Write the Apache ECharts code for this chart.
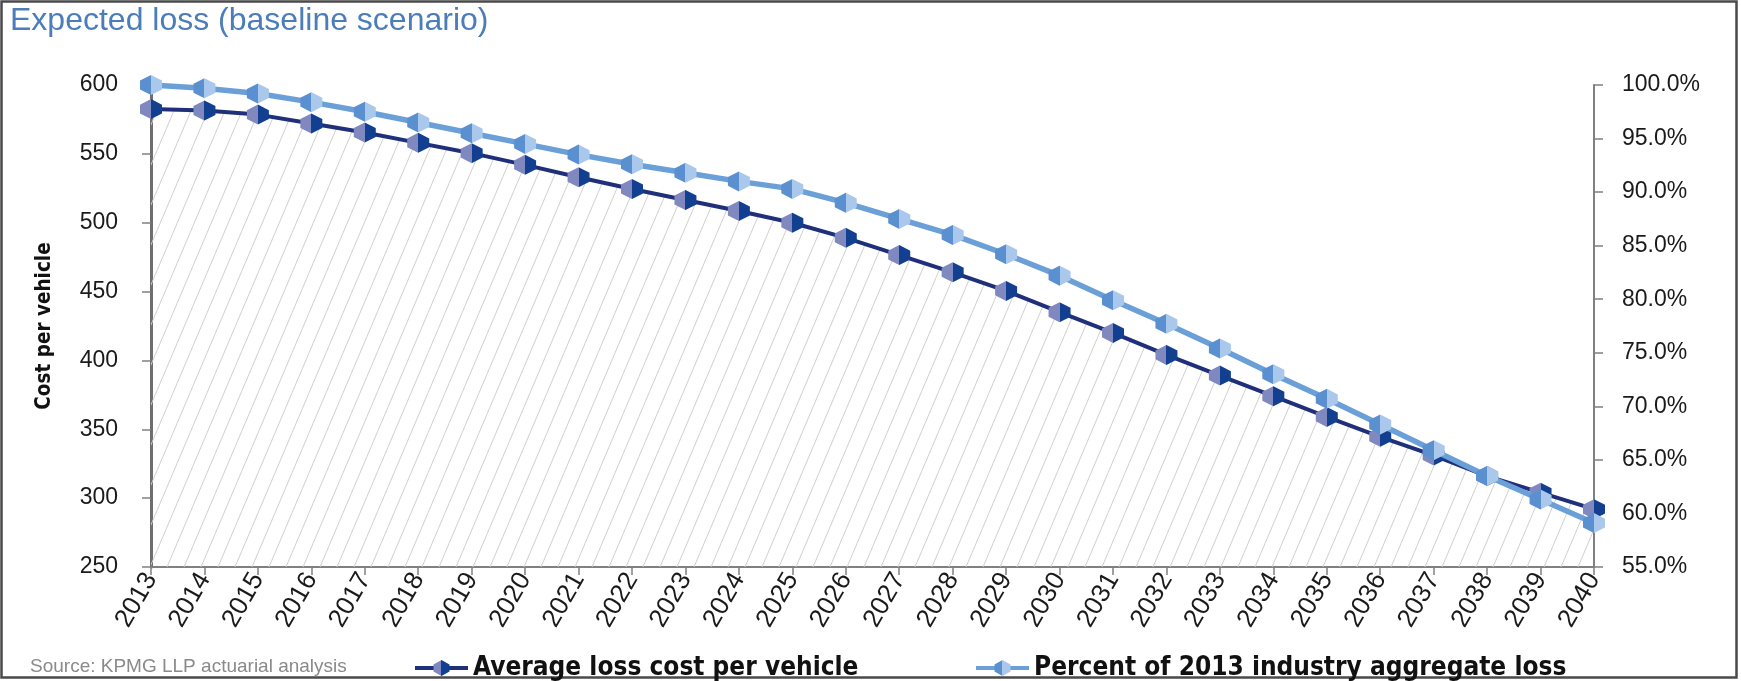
<!DOCTYPE html>
<html>
<head>
<meta charset="utf-8">
<title>Expected loss (baseline scenario)</title>
<script src="https://cdn.jsdelivr.net/npm/echarts@6/dist/echarts.min.js"></script>
<style>
  html, body { margin: 0; padding: 0; background: #ffffff; }
  #chart { width: 1741px; height: 681px; }
</style>
</head>
<body>
<div id="chart"></div>
<script>
// Model years on the category axis
const years = ['2013', '2014', '2015', '2016', '2017', '2018', '2019', '2020', '2021', '2022',
  '2023', '2024', '2025', '2026', '2027', '2028', '2029', '2030', '2031', '2032',
  '2033', '2034', '2035', '2036', '2037', '2038', '2039', '2040'];

// Average loss cost per vehicle (left axis, dollars)
const avgLossCost = [582.5, 581.5, 578.5, 572, 565.5, 558, 550.5, 542, 533, 524.5,
  516.5, 508.5, 500, 489, 476.5, 464, 450.5, 435, 420, 404,
  389, 374, 359, 344.5, 331, 316, 304, 292];

// Percent of 2013 industry aggregate loss (right axis, percent)
const pctOfAggregate = [100, 99.7, 99.2, 98.4, 97.5, 96.5, 95.5, 94.5, 93.5, 92.6,
  91.8, 91.0, 90.3, 89.0, 87.5, 86.0, 84.2, 82.2, 79.9, 77.7,
  75.4, 73.0, 70.7, 68.3, 65.9, 63.5, 61.3, 59.1];

// Tick values for both value axes
const costTicks = [250, 300, 350, 400, 450, 500, 550, 600];
const pctTicks = [55, 60, 65, 70, 75, 80, 85, 90, 95, 100];

const seriesNames = ['Average loss cost per vehicle', 'Percent of 2013 industry aggregate loss'];

// Diagonal hatch tile used to fill the area under the cost line
function makeHatch() {
  const w = 17, h = 40;
  const c = document.createElement('canvas');
  c.width = w; c.height = h;
  const g = c.getContext('2d');
  g.strokeStyle = '#cfcfcf';
  g.lineWidth = 1;
  g.beginPath();
  for (let k = -1; k <= 1; k++) {
    g.moveTo(k * w, h);
    g.lineTo((k + 1) * w, 0);
  }
  g.stroke();
  return c;
}

// Two-tone fill for the hexagonal markers: left half / right half
function split(left, right) {
  return {
    type: 'linear', x: 0, y: 0, x2: 1, y2: 0,
    colorStops: [
      { offset: 0, color: left }, { offset: 0.5, color: left },
      { offset: 0.5, color: right }, { offset: 1, color: right }
    ]
  };
}

const hexagon = 'path://M0,5 L10,0 L20,5 L20,13 L10,18 L0,13 Z';
const axisFont = 'Liberation Sans, Arial, sans-serif';
const narrowBold = 'Liberation Sans Narrow, DejaVu Sans Condensed, Liberation Sans, sans-serif';

const chart = echarts.init(document.getElementById('chart'), null, { renderer: 'canvas' });

const legendBase = {
  orient: 'horizontal',
  top: 655,
  padding: 0,
  itemWidth: 53,
  itemHeight: 20,
  lineStyle: { width: 4 },
  textStyle: { fontFamily: narrowBold, fontWeight: 'bold', fontSize: 26, color: '#111111' }
};

chart.setOption({
  animation: false,
  backgroundColor: '#ffffff',
  title: {
    text: 'Expected loss (baseline scenario)',
    left: 10,
    top: 5,
    padding: 0,
    textStyle: { fontFamily: 'Liberation Sans, Arial, sans-serif', fontWeight: 'normal', fontSize: 32, color: '#4a7dba' }
  },
  legend: [
    Object.assign({}, legendBase, { left: 413, data: [seriesNames[0]] }),
    Object.assign({}, legendBase, { left: 974, data: [seriesNames[1]] })
  ],
  grid: { left: 151, right: 147, top: 85, bottom: 114, containLabel: false },
  xAxis: {
    type: 'category',
    data: years,
    boundaryGap: false,
    axisLine: { lineStyle: { color: '#808080', width: 2 } },
    axisTick: { show: true, interval: 0, length: 8, lineStyle: { color: '#808080', width: 1.5 } },
    axisLabel: { interval: 0, rotate: 60, margin: 8, fontFamily: axisFont, fontSize: 26, color: '#1a1a1a' },
    splitLine: { show: false }
  },
  yAxis: [
    {
      type: 'value',
      min: costTicks[0],
      max: costTicks[costTicks.length - 1],
      interval: costTicks[1] - costTicks[0],
      name: 'Cost per vehicle',
      nameLocation: 'middle',
      nameGap: 96,
      nameRotate: 90,
      nameTextStyle: { fontFamily: narrowBold, fontWeight: 'bold', fontSize: 20.5, color: '#111111' },
      axisLine: { show: true, lineStyle: { color: '#6e6e6e', width: 3 } },
      axisTick: { show: true, length: 9, lineStyle: { color: '#808080', width: 1.5 } },
      axisLabel: { margin: 33, fontFamily: axisFont, fontSize: 23, color: '#1a1a1a' },
      splitLine: { show: false }
    },
    {
      type: 'value',
      position: 'right',
      min: pctTicks[0],
      max: pctTicks[pctTicks.length - 1],
      interval: pctTicks[1] - pctTicks[0],
      axisLine: { show: true, lineStyle: { color: '#808080', width: 2 } },
      axisTick: { show: true, length: 9, lineStyle: { color: '#808080', width: 1.5 } },
      axisLabel: {
        margin: 28, fontFamily: axisFont, fontSize: 23, color: '#1a1a1a',
        formatter: v => v.toFixed(1) + '%'
      },
      splitLine: { show: false }
    }
  ],
  series: [
    {
      name: seriesNames[0],
      type: 'line',
      yAxisIndex: 0,
      data: avgLossCost,
      symbol: hexagon,
      symbolSize: [22, 20],
      showAllSymbol: true,
      lineStyle: { color: '#1f2f7a', width: 4 },
      itemStyle: { color: split('#7f89bf', '#123f90'), borderWidth: 0 },
      areaStyle: { color: { image: makeHatch(), repeat: 'repeat' }, opacity: 1, origin: 'start' },
      z: 2
    },
    {
      name: seriesNames[1],
      type: 'line',
      yAxisIndex: 1,
      data: pctOfAggregate,
      symbol: hexagon,
      symbolSize: [22, 20],
      showAllSymbol: true,
      lineStyle: { color: '#6a9fd8', width: 5.5 },
      itemStyle: { color: split('#5a8fd0', '#a9c8ec'), borderWidth: 0 },
      z: 3
    }
  ],
  graphic: [
    {
      type: 'rect',
      silent: true,
      shape: { x: 1.5, y: 1.5, width: 1735, height: 676 },
      style: { fill: 'none', stroke: '#4a4a4a', lineWidth: 2.5 }
    },
    {
      type: 'text',
      silent: true,
      left: 30,
      top: 657,
      style: {
        text: 'Source: KPMG LLP actuarial analysis',
        fontFamily: 'Liberation Sans, Arial, sans-serif',
        fontSize: 19,
        fill: '#8a8a8a'
      }
    }
  ]
});
</script>
</body>
</html>
